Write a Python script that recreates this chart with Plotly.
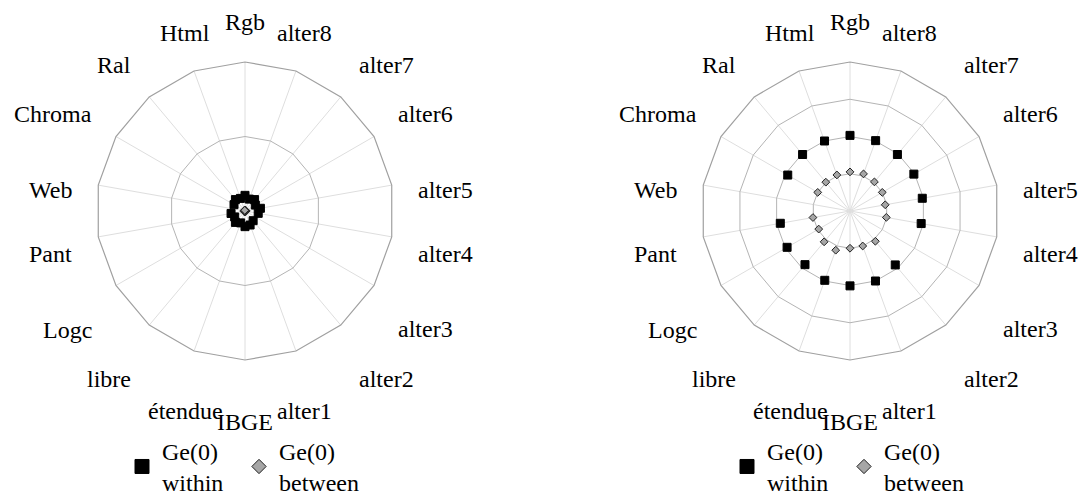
import math
import plotly.graph_objects as go

categories = ["Rgb", "alter8", "alter7", "alter6", "alter5", "alter4", "alter3",
              "alter2", "alter1", "IBGE", "étendue", "libre", "Logc", "Pant",
              "Web", "Chroma", "Ral", "Html"]

# left panel
left_within = [0.105, 0.085, 0.10, 0.08, 0.105, 0.09, None, 0.085, 0.10,
               0.105, 0.085, 0.10, 0.08, 0.095, None, 0.085, 0.10, 0.09]
left_between = [0.006, 0.006, 0.005, 0.006, 0.006, 0.005, None, 0.006, 0.005,
                0.006, 0.006, 0.005, 0.006, 0.005, None, 0.006, 0.006, 0.005]

# right panel
right_within = [0.203, 0.201, 0.198, 0.198, 0.197, 0.194, None, 0.189, 0.200,
                0.201, 0.198, 0.188, 0.195, 0.190, None, 0.193, 0.198, 0.200]
right_between = [0.105, 0.106, 0.102, 0.100, 0.096, 0.099, None, 0.106, 0.100,
                 0.100, 0.112, 0.108, 0.097, 0.101, None, 0.100, 0.101, 0.103]

W, H = 1088, 498
FONT = "Liberation Serif, Times New Roman, serif"
sq = dict(symbol="square", color="black", size=8, line=dict(color="black", width=1))
dm = dict(symbol="diamond", color="#a6a6a6", size=6, line=dict(color="#222222", width=1))

# radar centres / radius in pixels
R = 149
centres = [(245, 211), (850, 211)]
# one legend per entry: left edge in pixels
legend_x = {"legend": 122, "legend2": 239, "legend3": 727, "legend4": 844}

fig = go.Figure()

for pol, legs, w, b in [("polar", ("legend", "legend2"), left_within, left_between),
                        ("polar2", ("legend3", "legend4"), right_within, right_between)]:
    fig.add_trace(go.Scatterpolar(r=w, theta=categories, mode="markers", marker=sq,
                                  subplot=pol, showlegend=False))
    fig.add_trace(go.Scatterpolar(r=b, theta=categories, mode="markers", marker=dm,
                                  subplot=pol, showlegend=False))
    # legend entries with larger symbols
    fig.add_trace(go.Scatterpolar(r=[None], theta=[None], mode="markers", subplot=pol,
                                  name="Ge(0)<br>within", legend=legs[0],
                                  marker=dict(sq, size=14)))
    fig.add_trace(go.Scatterpolar(r=[None], theta=[None], mode="markers", subplot=pol,
                                  name="Ge(0)<br>between", legend=legs[1],
                                  marker=dict(dm, size=11)))


def polar_layout(cx, cy, rng, dtick):
    return dict(
        domain=dict(x=[(cx - R) / W, (cx + R) / W], y=[1 - (cy + R) / H, 1 - (cy - R) / H]),
        gridshape="linear",
        bgcolor="white",
        radialaxis=dict(range=rng, dtick=dtick, showticklabels=False, ticks="",
                        showline=False, gridcolor="#b4b4b4", gridwidth=1),
        angularaxis=dict(type="category", categoryorder="array", categoryarray=categories,
                         rotation=90, direction="clockwise", showticklabels=False,
                         linecolor="#a0a0a0", linewidth=1.2, gridcolor="#dedede"),
    )


# category labels placed around each radar, Excel style
annotations = []
n = len(categories)
for cx, cy in centres:
    for i, lab in enumerate(categories):
        th = math.radians(i * 360 / n)
        s, c = math.sin(th), math.cos(th)
        px = cx + (R + 25) * s
        py = cy - (R + 25) * c + (11 - 11 * c)
        xa = "center" if abs(s) < 0.5 else ("left" if s > 0 else "right")
        ya = "bottom" if c > 0.45 else ("top" if c < -0.45 else "middle")
        annotations.append(dict(text=lab, x=px / W, y=1 - py / H, xref="paper", yref="paper",
                                xanchor=xa, yanchor=ya, showarrow=False,
                                font=dict(family=FONT, size=24, color="black")))


def legend_layout(x):
    return dict(orientation="h", x=x / W, xanchor="left", y=0.139, yanchor="top",
                font=dict(family=FONT, size=24, color="black"),
                bgcolor="rgba(0,0,0,0)", itemclick=False)


fig.update_layout(
    width=W, height=H,
    autosize=False,
    margin=dict(l=0, r=0, t=0, b=0, autoexpand=False),
    paper_bgcolor="white",
    plot_bgcolor="white",
    font=dict(family=FONT, size=24, color="black"),
    polar=polar_layout(*centres[0], [0, 1], 0.5),
    polar2=polar_layout(*centres[1], [0, 0.4], 0.1),
    annotations=annotations,
    **{k: legend_layout(v) for k, v in legend_x.items()},
)

fig.write_html("out.html", config={"displayModeBar": False},
               post_script="document.body.style.margin='0';")
